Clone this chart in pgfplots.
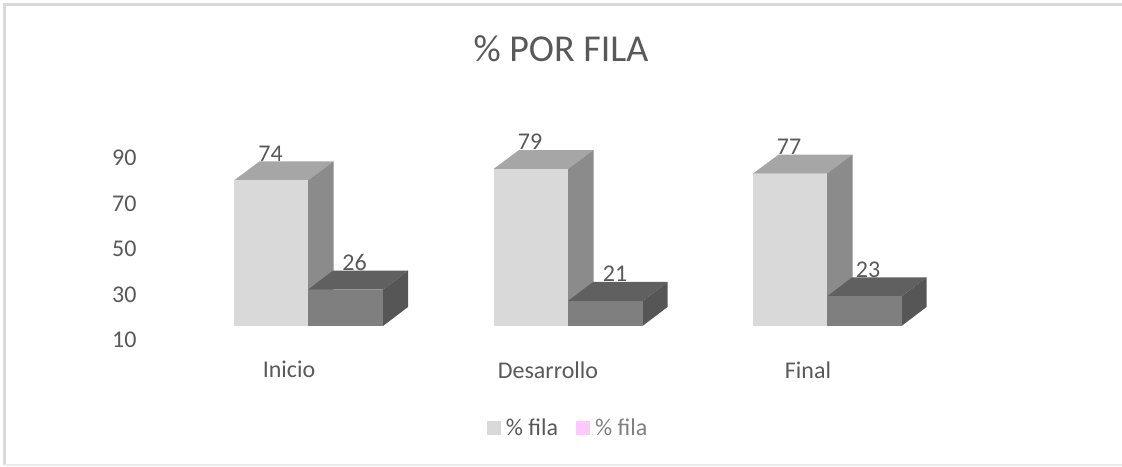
\documentclass[border=0pt]{standalone}
\usepackage{pgfplots}
\pgfplotsset{compat=1.18}
\usepackage{fontspec}
\setmainfont{Carlito}
\definecolor{txt}{HTML}{595959}
\definecolor{fa}{HTML}{D9D9D9}
\definecolor{ta}{HTML}{A6A6A6}
\definecolor{sa}{HTML}{8B8B8B}
\definecolor{fb}{HTML}{7F7F7F}
\definecolor{tb}{HTML}{606060}
\definecolor{sb}{HTML}{565656}
\definecolor{pinkk}{HTML}{FFC9FF}
\begin{document}
\begin{tikzpicture}[x=1pt,y=1pt]
\path[use as bounding box] (0,0) rectangle (1122,466);
\draw[draw=black!15,line width=2.4pt] (4.5,1) -- (4.5,461.5) -- (1122,461.5);
\draw[draw=black!8,line width=1.2pt] (4.5,1) -- (1122,1);
\begin{axis}[
  at={(140pt,108.15pt)}, anchor=south west,
  scale only axis, width=860pt, height=259.35pt,
  xmin=140, xmax=1000, ymin=-4, ymax=110,
  clip=false,
  axis line style={draw=none},
  tick style={draw=none},
  major tick length=0pt,
  xtick={289,548,808},
  xticklabels={Inicio,Desarrollo,Final},
  ytick={10,30,50,70,90},
  yticklabel style={yshift=-14pt},
  /pgf/number format/assume math mode=true,
  ticklabel style={font=\fontsize{24}{28}\selectfont,text=txt},
  title={\% POR FILA},
  title style={at={(0.4895,1.168)},anchor=center,font=\fontsize{38}{44}\selectfont,text=txt},
  legend style={at={(0.4995,-0.27)},anchor=center,draw=none,fill=none,
    legend columns=2,font=\fontsize{24}{28}\selectfont,text=txt,
    nodes={inner xsep=5pt},
    /tikz/every even column/.append style={column sep=13pt}},
  legend image code/.code={\fill[#1,draw=none] (0pt,-7pt) rectangle (14pt,7pt);},
  face/.style={draw=none,forget plot},
  lab/.style={draw=none,mark=none,forget plot,point meta=y,
    nodes near coords,
    every node near coord/.style={anchor=center,yshift=27pt,
      font=\fontsize{24}{28}\selectfont,text=txt}},
]
% group 1
\addplot[face,fill=ta] coordinates {(234,74)(308,74)(333.5,82.35)(259.5,82.35)} -- cycle;
\addplot[face,fill=sa] coordinates {(308,10)(333.5,18.35)(333.5,82.35)(308,74)} -- cycle;
\addplot[face,fill=fa] coordinates {(234,10)(308,10)(308,74)(234,74)} -- cycle;
\addplot[face,fill=tb] coordinates {(308,26)(383,26)(408,34.35)(333,34.35)} -- cycle;
\addplot[face,fill=sb] coordinates {(383,10)(408,18.35)(408,34.35)(383,26)} -- cycle;
\addplot[face,fill=fb] coordinates {(308,10)(383,10)(383,26)(308,26)} -- cycle;
% group 2
\addplot[face,fill=ta] coordinates {(493.5,79)(568,79)(593.5,87.35)(519,87.35)} -- cycle;
\addplot[face,fill=sa] coordinates {(568,10)(593.5,18.35)(593.5,87.35)(568,79)} -- cycle;
\addplot[face,fill=fa] coordinates {(493.5,10)(568,10)(568,79)(493.5,79)} -- cycle;
\addplot[face,fill=tb] coordinates {(568,21)(642.5,21)(667.5,29.35)(593,29.35)} -- cycle;
\addplot[face,fill=sb] coordinates {(642.5,10)(667.5,18.35)(667.5,29.35)(642.5,21)} -- cycle;
\addplot[face,fill=fb] coordinates {(568,10)(642.5,10)(642.5,21)(568,21)} -- cycle;
% group 3
\addplot[face,fill=ta] coordinates {(753,77)(827,77)(852.5,85.35)(778.5,85.35)} -- cycle;
\addplot[face,fill=sa] coordinates {(827,10)(852.5,18.35)(852.5,85.35)(827,77)} -- cycle;
\addplot[face,fill=fa] coordinates {(753,10)(827,10)(827,77)(753,77)} -- cycle;
\addplot[face,fill=tb] coordinates {(827,23)(901.5,23)(926.5,31.35)(852,31.35)} -- cycle;
\addplot[face,fill=sb] coordinates {(901.5,10)(926.5,18.35)(926.5,31.35)(901.5,23)} -- cycle;
\addplot[face,fill=fb] coordinates {(827,10)(901.5,10)(901.5,23)(827,23)} -- cycle;
% value labels
\addplot[lab] coordinates {(270.5,74)(530,79)(789,77)};
\addplot[lab] coordinates {(354.5,26)(615,21)(868,23)};
% legend
\addlegendimage{fill=fa}
\addlegendentry{\% fila}
\addlegendimage{fill=pinkk}
\addlegendentry{\textcolor{black!50}{\% fila}}
\end{axis}
\end{tikzpicture}
\end{document}
